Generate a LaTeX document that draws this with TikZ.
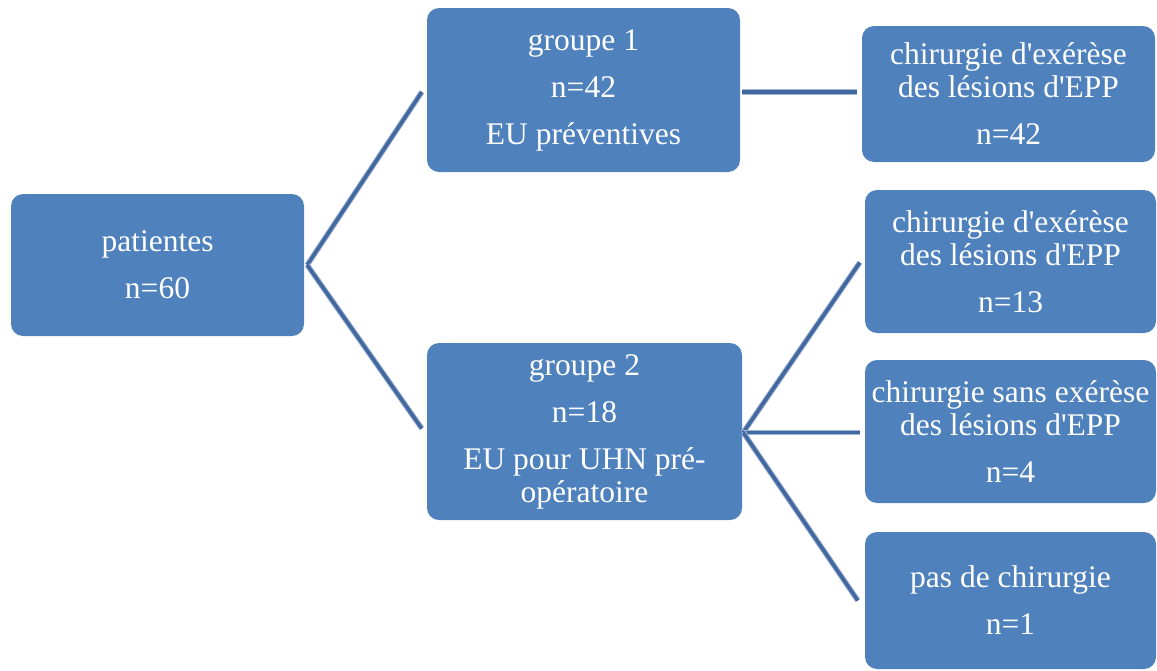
\documentclass[tikz,border=0pt]{standalone}
\usepackage{fontspec}
\setmainfont{Liberation Serif}[Ligatures=TeXOff]
\definecolor{boxblue}{HTML}{4F81BD}
\definecolor{linkblue}{HTML}{41689F}
\definecolor{linkshade}{HTML}{A3B5D6}
\begin{document}
\begin{tikzpicture}[x=1pt,y=-1pt,
  box/.style={draw=none, fill=boxblue, rounded corners=12pt, text=white,
    align=center, inner sep=0pt, font=\fontsize{31.5}{33}\selectfont},
  link/.style={draw=linkblue, line width=3.6pt,
    preaction={draw=linkshade, line width=5.6pt}}]
\useasboundingbox (0,0) rectangle (1157,670);

\node[box, minimum width=293pt, minimum height=142pt] (P) at (157.5,265)
  {patientes\\[14pt]n=60};
\node[box, minimum width=313pt, minimum height=164pt] (G1) at (583.5,90)
  {groupe 1\\[14pt]n=42\\[14pt]EU préventives};
\node[box, minimum width=315pt, minimum height=177pt] (G2) at (584.5,431.5)
  {groupe 2\\[14pt]n=18\\[14pt]EU pour UHN pré-\\opératoire};
\node[box, minimum width=293pt, minimum height=136pt] (R1) at (1008.5,94)
  {chirurgie d'exérèse\\des lésions d'EPP\\[14pt]n=42};
\node[box, minimum width=291pt, minimum height=143pt] (R2) at (1010.5,261.5)
  {chirurgie d'exérèse\\des lésions d'EPP\\[14pt]n=13};
\node[box, minimum width=291pt, minimum height=143pt] (R3) at (1010.5,431.5)
  {chirurgie sans exérèse\\des lésions d'EPP\\[14pt]n=4};
\node[box, minimum width=291pt, minimum height=137pt] (R4) at (1010.5,600.5)
  {pas de chirurgie\\[14pt]n=1};

\draw[link] ([xshift=3pt]P.east) -- ([xshift=-5pt,yshift=-2pt]G1.west);
\draw[link] ([xshift=3pt]P.east) -- ([xshift=-5pt,yshift=3pt]G2.west);
\draw[link] ([xshift=2pt,yshift=-2pt]G1.east) -- ([xshift=-5pt,yshift=2pt]R1.west);
\draw[link] ([xshift=1pt,yshift=-1pt]G2.east) -- ([xshift=-5pt,yshift=-1pt]R2.west);
\draw[link] ([xshift=1pt,yshift=-1pt]G2.east) -- ([xshift=-5pt,yshift=-1pt]R3.west);
\draw[link] ([xshift=1pt,yshift=-1pt]G2.east) -- ([xshift=-7pt]R4.west);
\end{tikzpicture}
\end{document}
